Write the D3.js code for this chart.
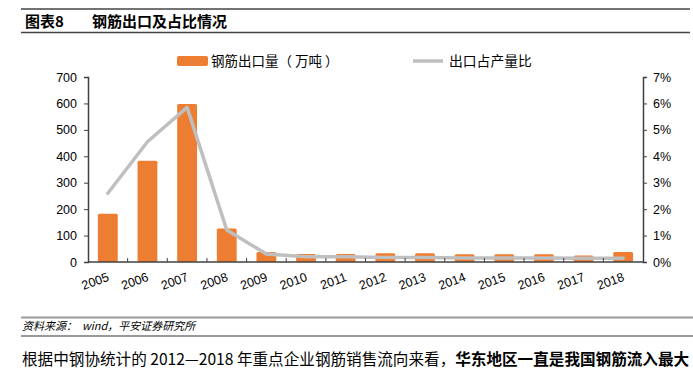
<!DOCTYPE html>
<html>
<head>
<meta charset="utf-8">
<script src="https://cdn.jsdelivr.net/npm/d3@7"></script>
<style>
	body { margin: 0; background: #fff; }
	svg { display: block; font-family: "Liberation Sans", "Noto Sans CJK SC", sans-serif; }
</style>
</head>
<body>
<svg id="chart" width="693" height="371"></svg>
<script>
var years = ['2005','2006','2007','2008','2009','2010','2011','2012','2013','2014','2015','2016','2017','2018'];
var exportVol = [183, 383, 598, 127, 38, 30, 30, 33, 33, 29, 29, 29, 25, 38];
var exportShare = [2.6, 4.55, 5.85, 1.21, 0.3, 0.2, 0.2, 0.17, 0.17, 0.15, 0.15, 0.15, 0.14, 0.14];
var leftTicks = [0, 100, 200, 300, 400, 500, 600, 700];
var rightTicks = [0, 1, 2, 3, 4, 5, 6, 7];

var svg = d3.select('#chart');
var cjk = '"Noto Sans CJK SC", sans-serif';

// header
svg.append('line').attr('x1', 21).attr('x2', 690).attr('y1', 9).attr('y2', 9)
	.attr('stroke', '#444').attr('stroke-width', 1.5);
svg.append('line').attr('x1', 21).attr('x2', 690).attr('y1', 32.5).attr('y2', 32.5)
	.attr('stroke', '#444').attr('stroke-width', 1.5);
svg.append('text').attr('x', 25).attr('y', 27).attr('font-size', 15).attr('font-weight', 'bold')
	.attr('font-family', cjk).text('图表8');
svg.append('text').attr('x', 92).attr('y', 27).attr('font-size', 15).attr('font-weight', 'bold')
	.attr('font-family', cjk).text('钢筋出口及占比情况');

var pLeft = 88, pRight = 643, pTop = 77, pBottom = 262;

var x = d3.scaleBand().domain(years).range([pLeft, pRight]);
var yL = d3.scaleLinear().domain([0, 700]).range([pBottom, pTop]);
var yR = d3.scaleLinear().domain([0, 7]).range([pBottom, pTop]);

// bars
svg.selectAll('rect.bar')
	.data(exportVol).enter()
	.append('rect')
	.attr('class', 'bar')
	.attr('x', function(d, i) { return x(years[i]) + x.bandwidth() * 0.25; })
	.attr('width', x.bandwidth() * 0.5)
	.attr('y', function(d) { return yL(d); })
	.attr('height', function(d) { return pBottom - yL(d); })
	.attr('rx', 1.5)
	.attr('fill', '#ed7d31');

// share line
var line = d3.line()
	.x(function(d, i) { return x(years[i]) + x.bandwidth() / 2; })
	.y(function(d) { return yR(d); });
svg.append('path')
	.datum(exportShare)
	.attr('d', line)
	.attr('fill', 'none')
	.attr('stroke', '#bfbfbf')
	.attr('stroke-width', 3.5)
	.attr('stroke-linejoin', 'round')
	.attr('stroke-linecap', 'round');

// axes
var axL = svg.append('g').attr('transform', 'translate(' + pLeft + ',0)')
	.call(d3.axisLeft(yL).tickValues(leftTicks).tickSize(4).tickPadding(7));
var axR = svg.append('g').attr('transform', 'translate(' + pRight + ',0)')
	.call(d3.axisRight(yR).tickValues(rightTicks).tickSize(4).tickPadding(6)
		.tickFormat(function(d) { return d + '%'; }));
var axB = svg.append('g').attr('transform', 'translate(0,' + pBottom + ')')
	.call(d3.axisBottom(x).tickSize(0));

[axL, axR, axB].forEach(function(g) {
	g.select('.domain').attr('stroke', '#404040').attr('stroke-width', 1.5);
	g.selectAll('.tick line').attr('stroke', '#404040');
	g.selectAll('text').attr('font-size', 12.5).attr('fill', '#000')
		.attr('font-family', '"Liberation Sans", sans-serif');
});
axB.select('.domain').attr('d', 'M' + pLeft + ',0H' + pRight);
axB.selectAll('.tick text')
	.attr('text-anchor', 'end')
	.attr('x', -4.5).attr('y', 18).attr('dy', 0)
	.attr('transform', 'rotate(-20)');

// bottom ticks at band boundaries
svg.append('g').selectAll('line')
	.data(years.slice(1)).enter()
	.append('line')
	.attr('x1', function(d) { return x(d); })
	.attr('x2', function(d) { return x(d); })
	.attr('y1', pBottom).attr('y2', pBottom - 4)
	.attr('stroke', '#404040');

// legend
svg.append('rect').attr('x', 177).attr('y', 56).attr('width', 31).attr('height', 10)
	.attr('rx', 2).attr('fill', '#ed7d31');
svg.append('text').attr('x', 211).attr('y', 66).attr('font-size', 13.5)
	.attr('font-family', cjk).text('钢筋出口量（ 万吨 ）');
svg.append('line').attr('x1', 413).attr('x2', 443).attr('y1', 61).attr('y2', 61)
	.attr('stroke', '#bfbfbf').attr('stroke-width', 3.5);
svg.append('text').attr('x', 449).attr('y', 66).attr('font-size', 13.8)
	.attr('font-family', cjk).text('出口占产量比');

// footer
svg.append('line').attr('x1', 21).attr('x2', 693).attr('y1', 317.5).attr('y2', 317.5)
	.attr('stroke', '#999').attr('stroke-width', 2);
svg.append('line').attr('x1', 21).attr('x2', 693).attr('y1', 336).attr('y2', 336)
	.attr('stroke', '#333').attr('stroke-width', 1);
svg.append('text').attr('x', 22).attr('y', 330).attr('font-size', 11)
	.attr('font-style', 'italic').attr('font-family', cjk)
	.attr('xml:space', 'preserve')
	.text('资料来源：  wind，平安证券研究所');

var body = svg.append('text').attr('x', 22).attr('y', 365).attr('font-size', 15.6)
	.attr('font-family', cjk);
body.append('tspan').text('根据中钢协统计的 2012—2018 年重点企业钢筋销售流向来看，');
body.append('tspan').attr('font-weight', 'bold').text('华东地区一直是我国钢筋流入最大');
</script>
</body>
</html>
